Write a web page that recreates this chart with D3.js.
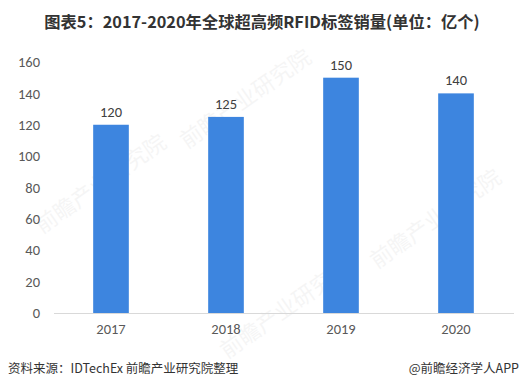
<!DOCTYPE html>
<html><head><meta charset="utf-8">
<script src="https://cdn.jsdelivr.net/npm/d3@7"></script>
<style>
body{margin:0;background:#fff;}
text{font-family:"Microsoft YaHei","Noto Sans CJK SC",sans-serif;}
</style></head>
<body><svg id="c" width="524" height="391"></svg>
<script>
const categories=["2017","2018","2019","2020"];
const values=[120,125,150,140];
const yTicks=[0,20,40,60,80,100,120,140,160];
const title="图表5：2017-2020年全球超高频RFID标签销量(单位：亿个)";
const source="资料来源：IDTechEx 前瞻产业研究院整理";
const credit="@前瞻经济学人APP";

const svg=d3.select("#c");
svg.append("rect").attr("width",524).attr("height",391).attr("fill","#fff");

// faint watermarks
const wm=[[105,190],[250,105],[290,315],[440,225]];
wm.forEach(([x,y])=>{
  svg.append("text").attr("transform",`translate(${x},${y}) rotate(-35)`)
    .attr("font-size",22).attr("fill","#000").attr("opacity",0.035)
    .attr("text-anchor","middle").text("前瞻产业研究院");
});

const x=d3.scaleBand().domain(categories).range([53.5,513.5]).paddingInner(0.69).paddingOuter(0.345);
const y=d3.scaleLinear().domain([0,160]).range([313,62]);

svg.append("text").attr("x",262).attr("y",28).attr("text-anchor","middle")
  .attr("font-size",16.3).attr("font-weight","bold").attr("fill","#333").text(title);

const ya=svg.append("g").attr("transform","translate(40,0)")
  .call(d3.axisLeft(y).tickValues(yTicks).tickSize(0).tickPadding(0));
ya.select(".domain").remove();
ya.selectAll("text").attr("font-size",14.5).attr("fill","#595959")
  .style("font-family","Calibri,Carlito,'Open Sans',sans-serif");

svg.selectAll("rect.bar").data(values).join("rect").attr("class","bar")
  .attr("x",(d,i)=>x(categories[i])).attr("width",x.bandwidth())
  .attr("y",d=>y(d)).attr("height",d=>y(0)-y(d)).attr("fill","#3D85DF");

svg.selectAll("text.lbl").data(values).join("text").attr("class","lbl")
  .attr("x",(d,i)=>x(categories[i])+x.bandwidth()/2).attr("y",d=>y(d)-8)
  .attr("text-anchor","middle").attr("font-size",14.5).attr("fill","#404040")
  .style("font-family","Calibri,Carlito,'Open Sans',sans-serif").text(d=>d);

const xa=svg.append("g").attr("transform","translate(0,313)")
  .call(d3.axisBottom(x).tickSize(0).tickPadding(11));
xa.select(".domain").attr("stroke","#d9d9d9");
xa.selectAll("text").attr("font-size",14.5).attr("fill","#595959")
  .style("font-family","Calibri,Carlito,'Open Sans',sans-serif");

svg.append("text").attr("x",8).attr("y",373).attr("font-size",12.5).attr("fill","#333").text(source);
svg.append("text").attr("x",519).attr("y",373).attr("text-anchor","end").attr("font-size",12.5).attr("fill","#333").text(credit);
</script></body></html>
